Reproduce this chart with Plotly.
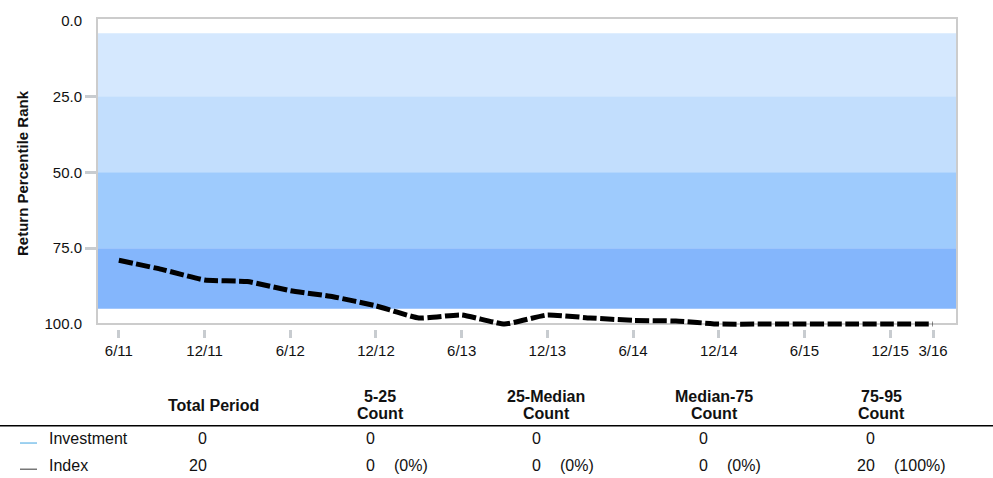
import plotly.graph_objects as go

# quarterly observations, 6/11 .. 3/16
quarters = list(range(20))
tick_pos = [0, 2, 4, 6, 8, 10, 12, 14, 16, 18, 19]
tick_text = ["6/11", "12/11", "6/12", "12/12", "6/13", "12/13", "6/14",
             "12/14", "6/15", "12/15", "3/16"]
index_rank = [79, 82, 85.5, 86, 89, 91, 94, 98, 97, 100, 97, 98, 98.8, 99,
              100, 100, 100, 100, 100, 100]

band_edges = [4.2, 25, 50, 75, 95]
band_colors = ["#d5e8fe", "#c2defd", "#9ecbfd", "#84b6fc"]

col_top = ["5-25", "25-Median", "Median-75", "75-95"]
col_bottom = ["Count", "Count", "Count", "Count"]
total_period = {"Investment": "0", "Index": "20"}
inv_counts = ["0", "0", "0", "0"]
idx_counts = ["0", "0", "0", "20"]
idx_pcts = ["(0%)", "(0%)", "(0%)", "(100%)"]
legend_colors = {"Investment": "#5fb4e6", "Index": "#555555"}

FONT = "Arial, Liberation Sans, sans-serif"
# plot area is a little taller than the visible frame so the line at 100 isn't clipped
L, R, T, B = 97, 957, 14, 329
FRAME_B = 324
W, H = 993, 478


def xp(px):
    return (px - L) / (R - L)


def yp(py):
    return (B - py) / (B - T)


fig = go.Figure()
fig.add_trace(go.Scatter(
    x=quarters, y=index_rank, mode="lines",
    line=dict(color="black", width=5, dash="14px,3.5px", shape="spline", smoothing=0.4),
    showlegend=False, hoverinfo="skip",
))

shapes = []
for i, c in enumerate(band_colors):
    shapes.append(dict(type="rect", xref="paper", yref="y", x0=0, x1=1,
                       y0=band_edges[i], y1=band_edges[i + 1],
                       fillcolor=c, line=dict(width=0), layer="below"))
# frame
shapes.append(dict(type="rect", xref="paper", yref="paper", x0=0, x1=1,
                   y0=yp(FRAME_B), y1=1, line=dict(color="#cccccc", width=2),
                   fillcolor="rgba(0,0,0,0)", layer="below"))

# table header rule and legend swatches
shapes.append(dict(type="line", xref="paper", yref="paper", x0=xp(0), x1=xp(W),
                   y0=yp(427), y1=yp(427), line=dict(color="black", width=1.5)))
for name, yy in [("Investment", 444.5), ("Index", 471)]:
    shapes.append(dict(type="line", xref="paper", yref="paper", x0=xp(20), x1=xp(37),
                       y0=yp(yy), y1=yp(yy), line=dict(color=legend_colors[name], width=1.2)))

ann = []


def txt(s, x, y, anchor="center", bold=False):
    ann.append(dict(text=f"<b>{s}</b>" if bold else s, x=xp(x), y=yp(y),
                    xref="paper", yref="paper", xanchor=anchor, yanchor="middle",
                    showarrow=False, font=dict(family=FONT, size=16, color="#111")))


txt("Total Period", 213, 406, bold=True)
head_x = [380, 546, 714, 881]
num_right = [377, 543, 710, 877]
for i in range(len(col_top)):
    txt(col_top[i], head_x[i], 397, bold=True)
    txt(col_bottom[i], head_x[i], 415, bold=True)
    txt(inv_counts[i], num_right[i], 440, anchor="right")
    txt(idx_counts[i], num_right[i], 467, anchor="right")
    txt(idx_pcts[i], num_right[i] + 15, 467, anchor="left")

for name, yy in [("Investment", 440), ("Index", 467)]:
    txt(name, 47, yy, anchor="left")
    txt(total_period[name], 209, yy, anchor="right")

tick_grey = "#c8ccd0"
axis_common = dict(showline=False, ticks="outside", tickwidth=3,
                   showgrid=False, zeroline=False,
                   tickfont=dict(family=FONT, size=15, color="#111"))

fig.update_layout(
    width=W, height=H,
    margin=dict(l=L, r=W - R, t=T, b=H - B),
    plot_bgcolor="white", paper_bgcolor="white",
    shapes=shapes, annotations=ann,
    xaxis=dict(range=[-0.51, 19.56], tickvals=tick_pos, ticktext=tick_text,
               tickcolor=tick_grey, ticklen=8, **axis_common),
    yaxis=dict(range=[101.63, -0.81], tickvals=[0, 25, 50, 75, 100], tickformat=".1f",
               tickcolor="rgba(0,0,0,0)", ticklen=11,
               minor=dict(tickmode="array", tickvals=[25, 50, 75], ticks="outside",
                          ticklen=11, tickwidth=3, tickcolor=tick_grey, showgrid=False),
               title=dict(text="<b>Return Percentile Rank</b>", standoff=12,
                          font=dict(family=FONT, size=15, color="#111")),
               **axis_common),
)

fig.write_html("out.html", config={"displayModeBar": False},
               post_script="document.body.style.margin='0';document.body.style.padding='0';")
